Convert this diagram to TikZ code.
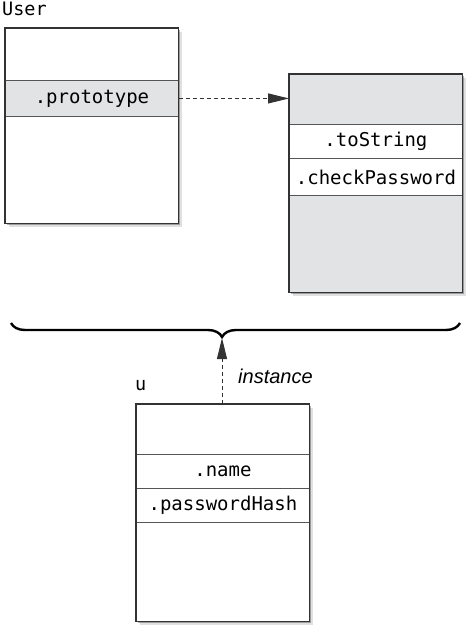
\documentclass[tikz,border=0pt]{standalone}
\usepackage{fontspec}
\setmonofont{DejaVu Sans Mono}
\setsansfont{Liberation Sans}
\usetikzlibrary{shadows,arrows.meta,decorations.pathreplacing}
\definecolor{bandgray}{HTML}{E2E3E4}
\definecolor{framecol}{HTML}{333333}
\definecolor{divcol}{HTML}{555555}
\begin{document}
\begin{tikzpicture}[x=1pt,y=-1pt,
  objbox/.style={rectangle, inner sep=0pt, anchor=north west, minimum width=173pt, fill=white,
    drop shadow={shadow xshift=2pt, shadow yshift=-2pt, opacity=0.3, fill=black},
    drop shadow={shadow xshift=4pt, shadow yshift=-4pt, opacity=0.12, fill=black}},
  band/.style={rectangle, inner sep=0pt, anchor=north west, minimum width=173pt,
    draw=divcol, line width=0.9pt, font=\ttfamily\fontsize{19}{21}\selectfont},
  frame/.style={draw=framecol, line width=1.2pt},
  lbl/.style={inner sep=0pt, font=\ttfamily\fontsize{18.5}{21}\selectfont},
  link/.style={draw=framecol, line width=1pt, dash pattern=on 4pt off 3pt,
    -{Triangle[length=21pt,width=10pt]}}
]
\useasboundingbox (0,0) rectangle (476,635);

% User box
\node[objbox, minimum height=195pt] (user) at (5,28) {};
\node[band, fill=bandgray, minimum height=36pt] (proto) at (5,80) {.prototype};
\draw[frame] (user.north west) rectangle (user.south east);
\node[lbl, anchor=base west] (userlbl) at (2,15) {User};

% Prototype object
\node[objbox, fill=bandgray, minimum height=218pt] (pbox) at (289,74) {};
\node[band, fill=white, minimum height=34pt] (tostr) at (289,124) {.toString};
\node[band, fill=white, minimum height=37pt] (check) at (289,158) {.checkPassword};
\draw[frame] (pbox.north west) rectangle (pbox.south east);

\draw[link] (proto.east) -- (proto.east -| pbox.west);

% Brace
\coordinate (bl) at (11,323);
\coordinate (br) at (460,323);
\coordinate (tip) at (222,338);
\draw[line width=2.4pt, decorate,
  decoration={brace, mirror, amplitude=14pt, aspect=0.47}] (bl) -- (br);

% u instance
\node[objbox, minimum height=217pt] (ubox) at (136,404) {};
\node[band, fill=white, minimum height=34pt] (uname) at (136,454) {.name};
\node[band, fill=white, minimum height=34pt] (uhash) at (136,488) {.passwordHash};
\draw[frame] (ubox.north west) rectangle (ubox.south east);
\node[lbl, anchor=base west] (ulbl) at (135,390) {u};

\draw[link] (ubox.north -| tip) -- (tip);
\node[inner sep=0pt, anchor=base west, font=\sffamily\itshape\fontsize{20}{22}\selectfont] (inst) at (238,383) {instance};
\end{tikzpicture}
\end{document}
